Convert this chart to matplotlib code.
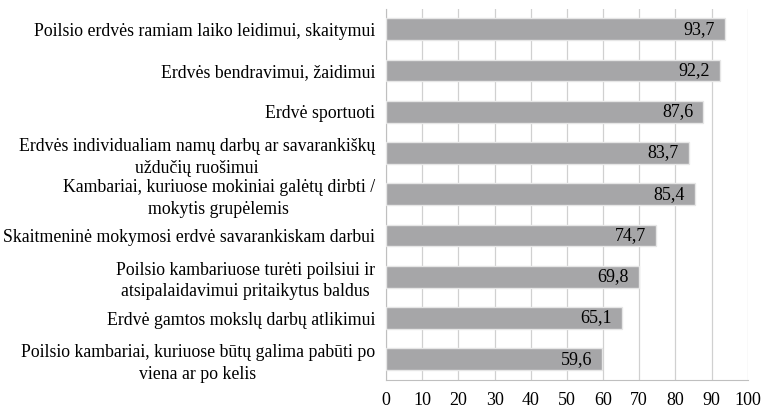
import numpy as np
import matplotlib.pyplot as plt

plt.rcParams['font.family'] = ['Liberation Serif', 'DejaVu Serif']

labels = [
    "Poilsio erdvės ramiam laiko leidimui, skaitymui",
    "Erdvės bendravimui, žaidimui",
    "Erdvė sportuoti",
    "Erdvės individualiam namų darbų ar savarankiškų\nuždučių ruošimui",
    "Kambariai, kuriuose mokiniai galėtų dirbti /\nmokytis grupėlemis",
    "Skaitmeninė mokymosi erdvė savarankiskam darbui",
    "Poilsio kambariuose turėti poilsiui ir\natsipalaidavimui pritaikytus baldus",
    "Erdvė gamtos mokslų darbų atlikimui",
    "Poilsio kambariai, kuriuose būtų galima pabūti po\nviena ar po kelis",
]
values = [93.7, 92.2, 87.6, 83.7, 85.4, 74.7, 69.8, 65.1, 59.6]
xticks = list(range(0, 101, 10))

fs = 12.8

fig = plt.figure(figsize=(7.63, 4.09), dpi=100)
ax = fig.add_axes([0.506, 0.071, 0.474, 0.908])

y = np.arange(len(labels))
ax.barh(y, values, height=0.53, color="#a6a6a8", edgecolor="#e6e6e6",
        linewidth=1.0, zorder=3)

for yi, v in zip(y, values):
    ax.annotate(f"{v:.1f}".replace(".", ","), xy=(v, yi), xytext=(-7, 0),
                textcoords="offset points", ha="right", va="center",
                fontsize=13, zorder=4)

ax.set_xlim(0, 100)
ax.set_ylim(len(labels) - 0.5, -0.5)
ax.set_xticks(xticks)
ax.set_xticklabels([str(t) for t in xticks], fontsize=13)
ax.set_yticks(y)
ax.set_yticklabels(labels, fontsize=fs, multialignment="center", linespacing=1.35)
ax.tick_params(length=0)
ax.tick_params(axis="x", pad=9)
ax.tick_params(axis="y", pad=8)

ax.xaxis.grid(True, color="#d0d0d0", linewidth=0.9, zorder=0)
for side in ["top", "right"]:
    ax.spines[side].set_visible(False)
ax.spines["left"].set_color("#bfbfbf")
ax.spines["bottom"].set_color("#bfbfbf")

fig.savefig("out.png", dpi=100)
